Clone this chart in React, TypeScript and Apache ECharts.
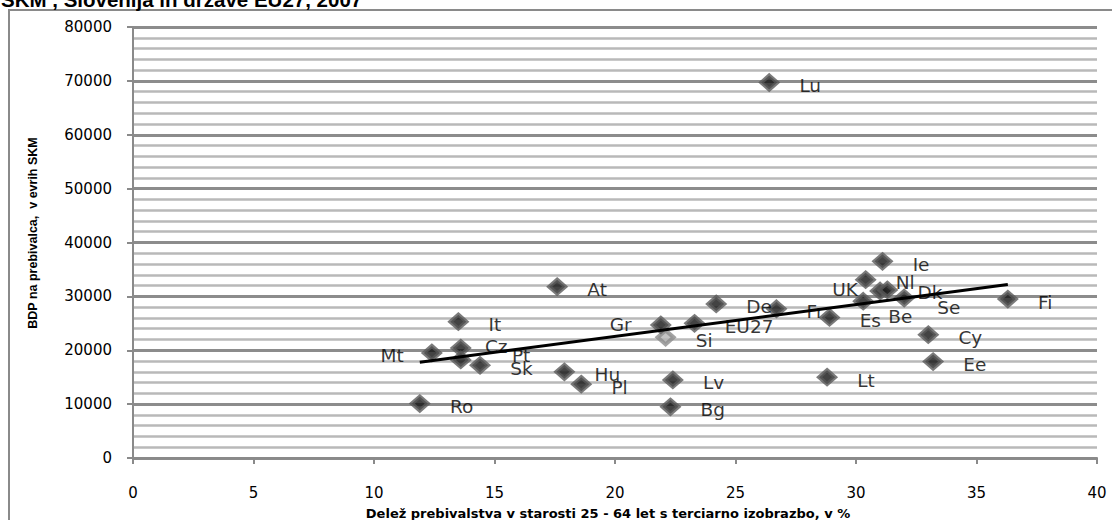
import React, { useEffect, useRef } from "react";
import * as echarts from "echarts";

// Country codes, share of population aged 25-64 with tertiary education (%),
// and GDP per inhabitant in PPS, 2007
const countries = ["Lu", "Ie", "Nl", "UK", "Dk", "Be", "Se", "Fi", "Cy", "Ee", "Lt", "Es", "Fr", "De", "EU27", "Si", "Gr", "Lv", "Bg", "At", "It", "Mt", "Cz", "Pt", "Sk", "Hu", "Pl", "Ro"];
const tertiaryShare = [26.4, 31.1, 30.4, 31.0, 31.3, 30.3, 32.0, 36.3, 33.0, 33.2, 28.8, 28.9, 26.7, 24.2, 23.3, 22.1, 21.9, 22.4, 22.3, 17.6, 13.5, 12.4, 13.6, 13.6, 14.4, 17.9, 18.6, 11.9];
const gdpPps = [69700, 36500, 33100, 31000, 31200, 29100, 29700, 29500, 22900, 17900, 15000, 26100, 27700, 28600, 25000, 22400, 24700, 14500, 9500, 31800, 25300, 19500, 20400, 18200, 17200, 16000, 13700, 10100];

const highlighted = "Si";

const titleText = "SKM , Slovenija in države EU27, 2007";
const xTitle = "Delež prebivalstva v starosti 25 - 64 let s terciarno izobrazbo, v %";
const yTitle = "BDP na prebivalca,  v evrih SKM";

// Label placement tweaks for crowded points
const labelPlacement: Record<string, { position: string; distance: number; offset: number[] }> = {
  Gr: { position: "left", distance: 19, offset: [0, 0] },
  Mt: { position: "left", distance: 18, offset: [0, 3] },
  UK: { position: "left", distance: 12, offset: [0, -1] },
  Pt: { position: "right", distance: 41, offset: [0, -4] },
  Se: { position: "right", distance: 23, offset: [0, 10] },
  Be: { position: "right", distance: 15, offset: [0, 15] },
  Cz: { position: "right", distance: 14, offset: [0, -2] },
};
const defaultPlacement = { position: "right", distance: 20, offset: [0, 3] };

// Least-squares linear trend over all points
function linearFit(xs: number[], ys: number[]) {
  const n = xs.length;
  const mx = xs.reduce((a, b) => a + b, 0) / n;
  const my = ys.reduce((a, b) => a + b, 0) / n;
  let sxy = 0;
  let sxx = 0;
  for (let i = 0; i < n; i++) {
    sxy += (xs[i] - mx) * (ys[i] - my);
    sxx += (xs[i] - mx) * (xs[i] - mx);
  }
  const slope = sxy / sxx;
  return { slope, intercept: my - slope * mx };
}

export default function App() {
  const ref = useRef<HTMLDivElement>(null);

  useEffect(() => {
    if (!ref.current) return;
    const chart = echarts.init(ref.current, null, { renderer: "svg" });

    const points = countries.map((name, i) => {
      const p = labelPlacement[name] || defaultPlacement;
      const item: any = {
        name,
        value: [tertiaryShare[i], gdpPps[i]],
        label: { position: p.position, distance: p.distance, offset: p.offset },
      };
      if (name === highlighted) {
        item.itemStyle = { color: "#b4b4b4", borderColor: "#8c8c8c" };
      }
      return item;
    });

    const { slope, intercept } = linearFit(tertiaryShare, gdpPps);
    const xMin = Math.min(...tertiaryShare);
    const xMax = Math.max(...tertiaryShare);
    const trend = [
      [xMin, intercept + slope * xMin],
      [xMax, intercept + slope * xMax],
    ];

    const axisColor = "#8a8a8a";
    const tickFont = { color: "#000", fontFamily: "DejaVu Sans", fontSize: 15 };

    chart.setOption({
      animation: false,
      grid: { left: 133, right: 15, top: 27, bottom: 62 },
      xAxis: {
        type: "value",
        min: 0,
        max: 40,
        interval: 5,
        axisLine: { show: true, lineStyle: { color: axisColor, width: 2 } },
        axisTick: { show: true, length: 6, lineStyle: { color: axisColor, width: 2 } },
        axisLabel: { margin: 27, ...tickFont },
        splitLine: { show: false },
      },
      yAxis: {
        type: "value",
        min: 0,
        max: 80000,
        interval: 10000,
        axisLine: { show: true, lineStyle: { color: axisColor, width: 2 } },
        axisTick: { show: true, length: 6, lineStyle: { color: axisColor, width: 2 } },
        axisLabel: { margin: 21, formatter: (v: number) => String(v), ...tickFont },
        splitLine: { show: true, lineStyle: { color: "#8c8c8c", width: 3 } },
        minorTick: { show: false, splitNumber: 5 },
        minorSplitLine: { show: true, lineStyle: { color: "#b9b9b9", width: 2.5 } },
      },
      series: [
        {
          type: "scatter",
          symbol: "diamond",
          symbolSize: [16, 14],
          itemStyle: { color: "#141414", borderColor: "#5a5a5a", borderWidth: 4 },
          label: {
            show: true,
            formatter: "{b}",
            color: "#000",
            fontFamily: "DejaVu Sans",
            fontSize: 18.5,
          },
          data: points,
          z: 2,
        },
        {
          type: "line",
          data: trend,
          symbol: "none",
          lineStyle: { color: "#000", width: 3 },
          z: 3,
        },
      ],
      graphic: [
        {
          type: "rect",
          shape: { x: 9, y: 10, width: 1200, height: 600 },
          style: { fill: "none", stroke: "#8a8a8a", lineWidth: 2 },
          silent: true,
        },
        {
          type: "text",
          x: 1,
          y: -1,
          style: {
            text: titleText,
            fill: "#000",
            font: "bold 20.5px 'Liberation Sans', Arial, sans-serif",
            textAlign: "left",
            textVerticalAlign: "middle",
          },
        },
        {
          type: "text",
          x: 608,
          y: 513,
          style: {
            text: xTitle,
            fill: "#000",
            font: "bold 13px 'DejaVu Sans', sans-serif",
            textAlign: "center",
            textVerticalAlign: "middle",
          },
        },
        {
          type: "text",
          x: 33,
          y: 233,
          rotation: Math.PI / 2,
          style: {
            text: yTitle,
            fill: "#000",
            font: "bold 12.5px 'Liberation Sans', Arial, sans-serif",
            textAlign: "center",
            textVerticalAlign: "middle",
          },
        },
      ],
    });

    return () => chart.dispose();
  }, []);

  return (
    <div
      ref={ref}
      style={{ position: "absolute", left: 0, top: 0, width: 1112, height: 520 }}
    />
  );
}
